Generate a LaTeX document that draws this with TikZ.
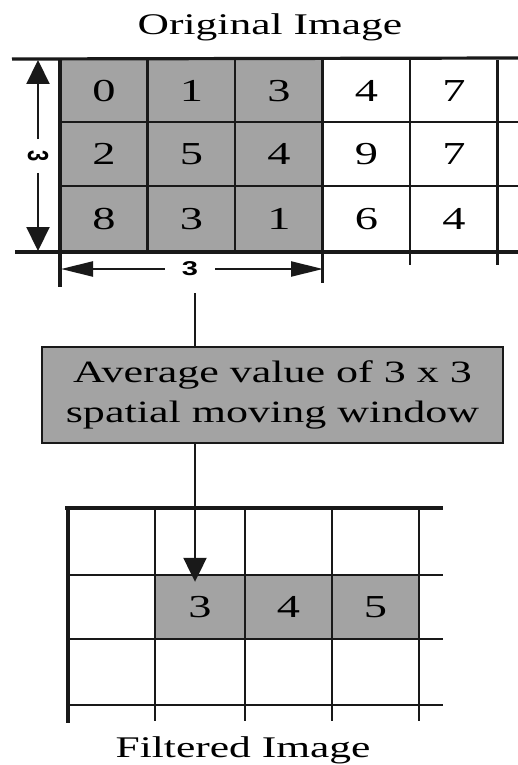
\documentclass[tikz,border=0pt]{standalone}
\usepackage{fontspec}
\usepackage{graphicx}
\setmainfont{Liberation Serif}
\newfontfamily\dimfont{Liberation Sans}
\usetikzlibrary{arrows.meta}
\begin{document}
\begin{tikzpicture}[x=1pt,y=-1pt,
  gridline/.style={line width=2.3pt,black!90},
  heavyline/.style={line width=3.2pt,black!90},
  shade/.style={fill=black!36},
  num/.style={inner sep=0pt,font=\fontsize{32}{34}\selectfont},
  title/.style={inner sep=0pt,font=\fontsize{30}{34}\selectfont},
  dimlab/.style={font=\dimfont\bfseries\fontsize{20}{22}\selectfont,fill=white},
  avgbox/.style={draw=black!90,line width=2.4pt,fill=black!36,minimum width=461pt,minimum height=96pt,inner sep=0pt,align=center,font=\fontsize{31}{40}\selectfont},
  conn/.style={line width=2.2pt,black!90}
]
\useasboundingbox (0,0) rectangle (518,765);
% titles
\node[title] (t1) at (270,27) {\scalebox{1.45}[1]{Original Image}};
\node[title] (t2) at (243,750) {\scalebox{1.45}[1]{Filtered Image}};
% ---------- original image grid
\fill[shade] (60,60) rectangle (322.5,252);
\draw[heavyline] (12,59) -- (518,58);
\draw[heavyline] (15,252) -- (518,252);
\draw[gridline] (60,122) -- (518,122);
\draw[gridline] (60,186) -- (518,186);
\draw[heavyline] (60,58) -- (60,287);
\draw[gridline] (147.5,60) -- (147.5,252);
\draw[gridline] (235,60) -- (235,252);
\draw[gridline] (322.5,60) -- (322.5,283);
\draw[gridline] (410,60) -- (410,265);
\draw[gridline] (497.5,60) -- (497.5,265);
\foreach \v [count=\i] in {0,1,3,4,7} \node[num] (a1\i) at (16.5+87.5*\i,91) {\scalebox{1.45}[1]{\v}};
\foreach \v [count=\i] in {2,5,4,9,7} \node[num] (a2\i) at (16.5+87.5*\i,154) {\scalebox{1.45}[1]{\v}};
\foreach \v [count=\i] in {8,3,1,6,4} \node[num] (a3\i) at (16.5+87.5*\i,219) {\scalebox{1.45}[1]{\v}};
% dimension arrows
\coordinate (vt) at (38,60);
\coordinate (vb) at (38,251);
\node[dimlab,rotate=-90,inner xsep=11pt,inner ysep=2pt] (vl) at (38,156) {\scalebox{1}[1.45]{3}};
\draw[conn,-{Triangle[width=23pt,length=24pt]}] (vl) -- (vt);
\draw[conn,-{Triangle[width=23pt,length=24pt]}] (vl) -- (vb);
\coordinate (hl) at (61,269);
\coordinate (hr) at (323,269);
\node[dimlab,inner xsep=17pt,inner ysep=2pt] (hlab) at (190,269) {\scalebox{1.45}[1]{3}};
\draw[conn,-{Triangle[width=15pt,length=32pt]}] (hlab) -- (hl);
\draw[conn,-{Triangle[width=15pt,length=32pt]}] (hlab) -- (hr);
% ---------- averaging box
\coordinate (in) at (195,293);
\node[avgbox] (avg) at (272.5,395) {\scalebox{1.42}[1]{Average value of 3 x 3}\\\scalebox{1.42}[1]{spatial moving window}};
% ---------- filtered image grid
\fill[shade] (155,575) rectangle (419,639);
\draw[heavyline] (65,508) -- (443,508);
\draw[gridline] (68,575) -- (443,575);
\draw[gridline] (68,639) -- (443,639);
\draw[gridline] (68,705) -- (443,705);
\draw[line width=4.5pt,black!90] (68,508) -- (68,723);
\foreach \x in {155,245,332,419} \draw[gridline] (\x,508) -- (\x,721);
\node[num,minimum width=88pt,minimum height=64pt] (f1) at (200,607) {\scalebox{1.45}[1]{3}};
\node[num] (f2) at (288.5,607) {\scalebox{1.45}[1]{4}};
\node[num] (f3) at (375.5,607) {\scalebox{1.45}[1]{5}};
% connectors
\draw[conn] (in) -- (in |- avg.north);
\draw[conn,-{Triangle[width=23pt,length=24pt]},shorten >=-7pt] (avg.south -| in) -- (in |- f1.north);
\end{tikzpicture}
\end{document}
